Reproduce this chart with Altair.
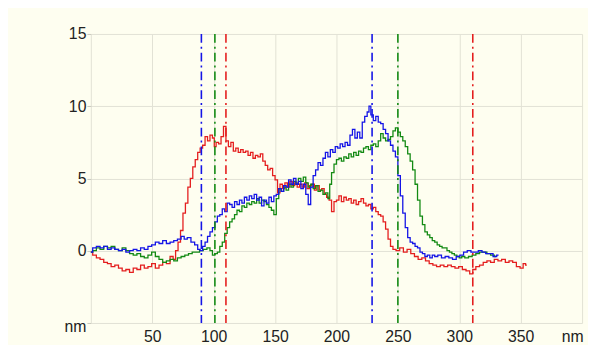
import altair as alt
import pandas as pd

# ---- data ----
red_x = [0, 3, 6, 9, 12, 15, 18, 21, 24, 27, 30, 33, 36, 39, 42, 45, 48, 51, 54, 57, 60, 63, 66, 68,
         70, 72, 74, 76, 78, 80, 82, 84, 86, 88, 90, 92, 94, 96, 98, 100, 101, 103, 105, 107, 109,
         111, 113, 115, 117, 119, 121, 123, 125, 127, 129, 131, 133, 135, 137, 139, 141, 143, 145,
         147, 149, 151, 153, 155, 157, 159, 161, 163, 165, 167, 169, 171, 173, 175, 177, 179, 181,
         183, 185, 187, 189, 191, 193, 195, 197, 199, 201, 203, 205, 207, 209, 211, 213, 215, 217,
         219, 221, 223, 225, 227, 229, 231, 233, 235, 237, 239, 241, 243, 245, 247, 250, 253, 256,
         259, 262, 265, 268, 271, 274, 277, 280, 283, 286, 289, 292, 295, 298, 301, 304, 307, 310,
         312, 315, 318, 321, 324, 327, 330, 333, 336, 339, 342, 345, 348, 351, 353, 355]
red_y = [-0.1, -0.3, -0.5, -0.6, -0.8, -0.9, -1.1, -1.0, -1.2, -1.4, -1.3, -1.5, -1.2, -1.3, -1.0,
         -1.2, -1.1, -0.9, -1.2, -1.0, -0.8, -0.9, -0.4, -0.6, 0.0, 0.6, 1.4, 2.6, 3.3, 4.4, 5.0,
         5.8, 6.3, 6.8, 7.1, 7.3, 7.9, 7.6, 8.0, 7.8, 7.2, 7.5, 7.4, 7.9, 8.6, 7.6, 7.2, 7.5, 6.9,
         7.1, 6.8, 7.0, 6.8, 6.9, 6.6, 6.8, 6.4, 6.6, 6.5, 6.7, 6.2, 5.9, 5.6, 5.7, 5.2, 4.9, 4.0,
         4.6, 4.3, 4.7, 4.4, 4.8, 4.5, 4.7, 4.4, 4.6, 4.4, 4.7, 4.3, 4.5, 4.6, 4.2, 4.5, 4.2, 4.3,
         3.9, 3.7, 3.5, 2.7, 3.4, 3.5, 3.8, 3.4, 3.7, 3.5, 3.6, 3.3, 3.5, 3.2, 3.4, 3.6, 3.3, 3.1,
         3.2, 2.9, 3.0, 2.7, 2.5, 2.4, 2.0, 1.5, 0.8, 0.3, 0.1, 0.0, 0.2, -0.1, 0.1, -0.2, -0.4,
         -0.6, -0.5, -0.7, -0.9, -1.0, -1.1, -1.0, -1.1, -1.0, -1.1, -1.2, -1.1, -1.3, -1.4, -1.6,
         -1.3, -1.1, -1.0, -0.8, -0.7, -0.8, -0.6, -0.7, -0.6, -0.8, -0.7, -0.8, -1.1, -1.2, -0.9,
         -1.0]

blue_x = [0, 3, 6, 9, 12, 15, 18, 21, 24, 27, 30, 33, 36, 39, 42, 45, 48, 51, 54, 57, 60, 63, 66,
          69, 72, 75, 77, 80, 83, 86, 88, 90, 92, 94, 96, 98, 100, 102, 104, 106, 108, 110, 112,
          114, 116, 118, 120, 122, 124, 126, 128, 130, 132, 134, 136, 138, 140, 142, 144, 146, 148,
          150, 152, 154, 156, 158, 160, 162, 164, 166, 168, 170, 172, 174, 176, 178, 180, 182, 184,
          186, 188, 190, 192, 194, 196, 198, 200, 202, 204, 206, 208, 210, 212, 214, 216, 218, 220,
          222, 224, 226, 227, 229, 231, 233, 235, 237, 239, 241, 243, 245, 247, 249, 251, 253, 255,
          257, 259, 261, 263, 265, 267, 269, 271, 273, 275, 277, 279, 281, 284, 287, 290, 293, 296,
          299, 302, 305, 308, 311, 314, 317, 320, 323, 326, 329, 332]
blue_y = [-0.1, 0.2, 0.3, 0.2, 0.3, 0.1, 0.2, 0.1, 0.0, 0.1, -0.1, 0.0, 0.1, 0.0, 0.2, 0.1, 0.3,
          0.4, 0.6, 0.5, 0.7, 0.5, 0.6, 0.7, 0.8, 1.0, 0.8, 0.9, 0.6, 0.4, 0.1, 0.0, 0.3, 0.6, 1.0,
          1.3, 1.6, 2.0, 2.4, 2.5, 2.9, 2.7, 3.3, 3.2, 3.0, 3.4, 3.2, 3.5, 3.3, 3.7, 3.5, 3.8, 3.6,
          3.9, 3.5, 3.7, 3.1, 3.5, 3.3, 3.7, 3.4, 3.8, 3.9, 4.3, 4.1, 4.5, 4.4, 4.9, 4.6, 5.0, 4.6,
          4.8, 4.3, 4.6, 3.9, 3.2, 4.4, 5.2, 5.6, 6.1, 5.9, 6.4, 6.8, 6.5, 7.0, 6.8, 7.2, 7.1, 7.4,
          7.2, 7.5, 7.3, 8.0, 8.4, 7.8, 8.2, 7.8, 8.9, 9.3, 9.6, 10.0, 9.4, 9.0, 9.3, 8.9, 8.8, 8.4,
          8.1, 7.6, 7.3, 6.9, 6.5, 5.2, 3.8, 2.6, 1.6, 0.9, 0.6, 0.5, 0.3, 0.2, -0.1, -0.2, -0.4,
          -0.3, -0.5, -0.3, -0.4, -0.3, -0.5, -0.4, -0.5, -0.6, -0.4, -0.3, -0.1, 0.0, -0.1, -0.1,
          0.0, -0.1, -0.2, -0.2, -0.4, -0.3]

green_x = [0, 3, 6, 9, 12, 15, 18, 21, 24, 27, 30, 33, 36, 39, 42, 45, 48, 51, 54, 57, 60, 63, 66,
           69, 72, 75, 78, 81, 84, 87, 90, 93, 96, 98, 100, 102, 104, 106, 108, 110, 112, 114, 116,
           118, 120, 122, 124, 126, 128, 130, 132, 134, 136, 138, 140, 142, 144, 146, 148, 150, 152,
           154, 156, 158, 160, 162, 164, 166, 168, 170, 172, 174, 176, 178, 180, 182, 184, 186, 188,
           190, 192, 194, 195, 197, 199, 201, 203, 205, 207, 209, 211, 213, 215, 217, 219, 221, 223,
           225, 227, 229, 231, 233, 235, 237, 239, 241, 243, 245, 247, 249, 251, 253, 255, 257, 259,
           261, 263, 265, 267, 269, 271, 273, 275, 277, 279, 281, 283, 285, 287, 289, 291, 293, 295,
           297, 299, 301, 303, 306, 309, 312, 315, 318, 321, 324, 327, 330]
green_y = [-0.1, 0.0, 0.2, 0.1, 0.3, 0.2, 0.3, 0.1, 0.0, 0.2, 0.0, -0.2, -0.3, -0.2, -0.4, -0.5,
           -0.3, -0.1, -0.4, -0.6, -0.8, -0.7, -0.6, -0.7, -0.5, -0.4, -0.3, -0.2, -0.1, -0.1, 0.0,
           0.1, 0.2, 0.0, -0.3, -0.2, -0.1, 0.3, 0.6, 1.2, 1.6, 2.0, 2.2, 2.5, 2.8, 2.7, 3.1, 3.0,
           3.3, 3.2, 3.4, 3.3, 3.6, 3.3, 3.5, 3.4, 3.2, 3.0, 2.8, 2.5, 3.6, 4.3, 4.1, 4.4, 4.2, 4.6,
           4.4, 4.8, 4.6, 5.0, 4.8, 5.1, 4.7, 4.4, 4.6, 4.3, 4.5, 4.1, 4.2, 3.9, 4.0, 3.6, 4.6, 5.4,
           6.0, 6.3, 6.4, 6.2, 6.5, 6.4, 6.7, 6.5, 6.8, 6.6, 6.9, 6.8, 7.1, 7.2, 7.0, 7.3, 7.4, 7.2,
           7.6, 8.1, 7.8, 7.6, 7.7, 7.9, 8.3, 8.5, 8.2, 7.9, 7.6, 7.2, 6.7, 6.2, 5.6, 4.6, 3.5, 2.4,
           1.8, 1.3, 1.1, 0.9, 0.7, 0.6, 0.4, 0.3, 0.2, 0.2, 0.0, -0.1, -0.2, -0.3, -0.4, -0.5, -0.4,
           -0.5, -0.4, -0.3, -0.2, -0.1, -0.1, -0.2, -0.3, -0.4]

marker_x = [90, 101, 110, 229, 250, 311]
marker_series = ["blue", "green", "red", "blue", "green", "red"]

series_names = ["blue", "green", "red"]
series_colors = ["#1414E6", "#138A13", "#E41E1E"]

x_ticks = [0, 50, 100, 150, 200, 250, 300, 350, 400]
y_ticks = [-5, 0, 5, 10, 15]

# ---- build tables ----
rows = []
for name, xs, ys in [("red", red_x, red_y), ("green", green_x, green_y), ("blue", blue_x, blue_y)]:
    for i, (a, b) in enumerate(zip(xs, ys)):
        rows.append({"series": name, "x": a, "y": b, "order": i})
lines_df = pd.DataFrame(rows)
markers_df = pd.DataFrame({"x": marker_x, "series": marker_series})

color_scale = alt.Scale(domain=series_names, range=series_colors)
x_scale = alt.Scale(domain=[0, 400], nice=False, zero=False)
y_scale = alt.Scale(domain=[-5, 15], nice=False, zero=False)

FONT = "Liberation Sans"
GRID = "#E2E2D4"

x_axis = alt.Axis(
    values=x_ticks, title=None, grid=True, gridColor=GRID, gridWidth=1, domain=False,
    ticks=False, labelPadding=6, labelFontSize=16, labelFont=FONT, labelColor="#222222",
    labelExpr="datum.value == 0 ? '' : (datum.value == 400 ? 'nm' : datum.label)",
    labelOffset={"condition": {"test": "datum.value == 400", "value": -10}, "value": 0},
    labelOverlap=False, labelBound=False, labelFlush=False,
)
y_axis = alt.Axis(
    values=y_ticks, title=None, grid=True, gridColor=GRID, gridWidth=1, domain=False,
    ticks=True, tickSize=4, tickColor="#C8C8BC", labelPadding=1, labelFontSize=16,
    labelFont=FONT, labelColor="#222222",
    labelExpr="datum.value == -5 ? 'nm' : datum.label",
    labelOffset={"condition": {"test": "datum.value == -5", "value": 4}, "value": 0},
    labelOverlap=False, labelBound=False, labelFlush=False,
)

lines = alt.Chart(lines_df).mark_line(strokeWidth=1.3, interpolate="step").encode(
    x=alt.X("x:Q", scale=x_scale, axis=x_axis),
    y=alt.Y("y:Q", scale=y_scale, axis=y_axis),
    color=alt.Color("series:N", scale=color_scale, legend=None),
    detail="series:N",
    order="order:Q",
)

rules = alt.Chart(markers_df).mark_rule(strokeWidth=1.6, strokeDash=[9, 4, 2, 4]).encode(
    x=alt.X("x:Q", scale=x_scale),
    color=alt.Color("series:N", scale=color_scale, legend=None),
)

chart = alt.layer(lines, rules).properties(
    width=498,
    height=293,
    autosize=alt.AutoSizeParams(type="none"),
    padding={"left": 84, "top": 24, "right": 6, "bottom": 20},
    background="#FEFEF0",
).configure_view(stroke=None)

chart.save("out.html", embed_options={"renderer": "svg", "actions": False})
